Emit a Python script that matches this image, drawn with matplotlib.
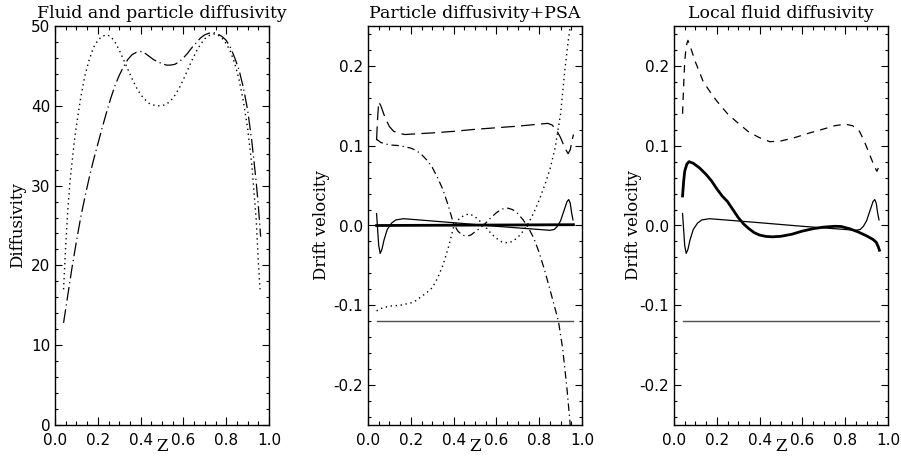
import matplotlib
matplotlib.use("Agg")
import matplotlib.pyplot as plt
from matplotlib.ticker import MultipleLocator, FormatStrFormatter
from matplotlib.transforms import ScaledTranslation

# ---------------- data ----------------
# Panel 1: Fluid and particle diffusivity
z_part = [0.04, 0.05, 0.06, 0.07, 0.08, 0.09, 0.10, 0.12, 0.14, 0.16, 0.18, 0.20,
          0.22, 0.24, 0.26, 0.28, 0.30, 0.32, 0.34, 0.36, 0.38, 0.40, 0.42, 0.44,
          0.46, 0.48, 0.50, 0.52, 0.54, 0.56, 0.58, 0.60, 0.62, 0.64, 0.66, 0.68,
          0.70, 0.72, 0.74, 0.76, 0.78, 0.80, 0.82, 0.84, 0.86, 0.88, 0.90, 0.92,
          0.94, 0.95, 0.958]
d_part = [17.0, 22.5, 27.0, 30.5, 33.0, 35.5, 37.5, 41.0, 43.8, 45.8, 47.3, 48.2,
          48.7, 48.9, 48.7, 48.0, 47.0, 45.8, 44.6, 43.4, 42.3, 41.4, 40.8, 40.3,
          40.1, 40.0, 40.0, 40.2, 40.6, 41.3, 42.2, 43.3, 44.5, 45.7, 46.8, 47.7,
          48.4, 48.8, 49.0, 48.9, 48.5, 47.8, 46.8, 45.3, 43.3, 40.6, 37.2, 32.5,
          25.8, 20.5, 17.0]

z_fluid = [0.04, 0.06, 0.08, 0.10, 0.12, 0.14, 0.16, 0.18, 0.20, 0.22, 0.24, 0.26,
           0.28, 0.30, 0.32, 0.34, 0.36, 0.38, 0.40, 0.42, 0.44, 0.46, 0.48, 0.50,
           0.52, 0.54, 0.56, 0.58, 0.60, 0.62, 0.64, 0.66, 0.68, 0.70, 0.72, 0.74,
           0.76, 0.78, 0.80, 0.82, 0.84, 0.86, 0.88, 0.90, 0.92, 0.94, 0.95, 0.961]
d_fluid = [12.8, 16.3, 19.8, 23.0, 26.0, 28.6, 31.0, 33.2, 35.2, 37.2, 39.1, 40.9,
           42.5, 43.8, 44.9, 45.8, 46.4, 46.7, 46.8, 46.6, 46.2, 45.8, 45.5, 45.3,
           45.1, 45.1, 45.2, 45.5, 46.0, 46.6, 47.3, 47.9, 48.5, 48.9, 49.1, 49.2,
           49.0, 48.7, 48.2, 47.3, 46.0, 44.5, 42.3, 39.5, 35.5, 30.5, 27.5, 23.6]

# Panel 2: Particle diffusivity + PSA
z_p2_dash = [0.04, 0.045, 0.05, 0.06, 0.08, 0.10, 0.12, 0.15, 0.175, 0.20, 0.30, 0.40,
             0.50, 0.60, 0.70, 0.80, 0.84, 0.86, 0.88, 0.90, 0.92, 0.935, 0.945, 0.955, 0.96]
v_p2_dash = [0.107, 0.135, 0.155, 0.150, 0.135, 0.124, 0.118, 0.115, 0.114, 0.1145, 0.116, 0.118,
             0.1205, 0.1225, 0.1245, 0.127, 0.128, 0.126, 0.120, 0.110, 0.097, 0.090, 0.095, 0.108, 0.114]

z_p2_dd = [0.04, 0.06, 0.10, 0.15, 0.20, 0.225, 0.25, 0.275, 0.30, 0.325, 0.35, 0.375,
           0.40, 0.42, 0.44, 0.46, 0.48, 0.50, 0.525, 0.55, 0.575, 0.60, 0.625, 0.65,
           0.675, 0.70, 0.725, 0.75, 0.775, 0.80, 0.825, 0.85, 0.875, 0.89, 0.91, 0.93, 0.945]
v_p2_dd = [0.108, 0.104, 0.101, 0.100, 0.097, 0.094, 0.089, 0.082, 0.073, 0.060, 0.045, 0.025,
           0.002, -0.007, -0.012, -0.0133, -0.012, -0.008, -0.003, 0.003, 0.010, 0.016, 0.0205, 0.022,
           0.020, 0.015, 0.007, -0.003, -0.016, -0.034, -0.056, -0.080, -0.105, -0.120, -0.155, -0.205, -0.25]

z_p2_dot = [0.04, 0.06, 0.10, 0.15, 0.20, 0.225, 0.25, 0.275, 0.30, 0.325, 0.35, 0.375,
            0.40, 0.425, 0.45, 0.475, 0.50, 0.525, 0.55, 0.575, 0.60, 0.625, 0.65,
            0.675, 0.70, 0.725, 0.75, 0.775, 0.80, 0.825, 0.85, 0.875, 0.90, 0.92, 0.935, 0.945]
v_p2_dot = [-0.107, -0.104, -0.101, -0.100, -0.097, -0.094, -0.089, -0.084, -0.078, -0.066, -0.050, -0.028,
            -0.002, 0.008, 0.013, 0.0145, 0.011, 0.005, -0.002, -0.010, -0.016, -0.0205, -0.0217,
            -0.020, -0.015, -0.007, 0.003, 0.016, 0.032, 0.050, 0.070, 0.098, 0.140, 0.195, 0.230, 0.25]

# thin solid curve (same in panels 2 and 3)
z_thin = [0.04, 0.045, 0.05, 0.057, 0.065, 0.075, 0.09, 0.11, 0.13, 0.165, 0.20, 0.40,
          0.60, 0.80, 0.85, 0.87, 0.885, 0.90, 0.915, 0.93, 0.938, 0.945, 0.952, 0.958]
v_thin = [0.015, -0.005, -0.025, -0.035, -0.030, -0.018, -0.005, 0.003, 0.007, 0.0085, 0.0078, 0.0035,
          -0.001, -0.005, -0.006, -0.005, -0.001, 0.006, 0.018, 0.030, 0.0325, 0.028, 0.015, 0.007]

z_p2_thick = [0.04, 0.96]
v_p2_thick = [0.0, 0.001]

z_ref = [0.04, 0.96]
v_ref = [-0.12, -0.12]

# Panel 3: Local fluid diffusivity
z_p3_dash = [0.04, 0.045, 0.05, 0.057, 0.065, 0.075, 0.10, 0.137, 0.175, 0.20, 0.25, 0.292,
             0.35, 0.40, 0.448, 0.50, 0.55, 0.634, 0.70, 0.75, 0.80, 0.835, 0.867, 0.89,
             0.914, 0.935, 0.948, 0.955]
v_p3_dash = [0.140, 0.175, 0.205, 0.225, 0.232, 0.225, 0.205, 0.180, 0.165, 0.156, 0.140, 0.130,
             0.117, 0.110, 0.105, 0.106, 0.109, 0.116, 0.121, 0.125, 0.127, 0.125, 0.118, 0.105,
             0.089, 0.075, 0.068, 0.072]

z_p3_thick = [0.04, 0.045, 0.05, 0.06, 0.07, 0.09, 0.12, 0.15, 0.175, 0.20, 0.225, 0.25,
              0.275, 0.30, 0.325, 0.35, 0.375, 0.40, 0.43, 0.46, 0.50, 0.55, 0.60, 0.65,
              0.70, 0.75, 0.78, 0.82, 0.86, 0.90, 0.93, 0.945, 0.955, 0.96]
v_p3_thick = [0.037, 0.055, 0.068, 0.077, 0.080, 0.078, 0.072, 0.064, 0.056, 0.046, 0.037, 0.030,
              0.020, 0.010, 0.002, -0.004, -0.009, -0.012, -0.0137, -0.0142, -0.0135, -0.011, -0.007, -0.004,
              -0.002, -0.001, -0.0012, -0.004, -0.008, -0.013, -0.0175, -0.021, -0.027, -0.031]

titles = ["Fluid and particle diffusivity", "Particle diffusivity+PSA", "Local fluid diffusivity"]
ylabels = ["Diffusivity", "Drift velocity", "Drift velocity"]
xlabel = "Z"

# ---------------- figure ----------------
W, H = 901, 465
fig = plt.figure(figsize=(W / 100, H / 100), dpi=100)

lefts = [55, 368, 674]
label_x = [-0.176, -0.216, -0.19]
axes = []
for i, lp in enumerate(lefts):
    ax = fig.add_axes([lp / W, 40 / H, 214 / W, 399 / H])
    axes.append(ax)

SERIF = "DejaVu Serif"
TICKFONT = "DejaVu Sans"

dot = (0, (1, 2.6))
k = "black"

ax1, ax2, ax3 = axes
ax1.plot(z_part, d_part, color=k, lw=1.0, linestyle=dot)
ax1.plot(z_fluid, d_fluid, color=k, lw=0.9, linestyle=(0, (11, 3, 1, 3)))

ax2.plot(z_p2_dash, v_p2_dash, color=k, lw=0.9, linestyle=(0, (11, 5)))
ax2.plot(z_p2_dd, v_p2_dd, color=k, lw=0.9, linestyle=(0, (6, 3, 1, 3)))
ax2.plot(z_p2_dot, v_p2_dot, color=k, lw=1.0, linestyle=dot)
ax2.plot(z_thin, v_thin, color=k, lw=0.9)
ax2.plot(z_p2_thick, v_p2_thick, color=k, lw=2.0)
ax2.plot(z_ref, v_ref, color="0.3", lw=1.0)

ax3.plot(z_p3_dash, v_p3_dash, color=k, lw=0.9, linestyle=(0, (6, 5)))
ax3.plot(z_p3_thick, v_p3_thick, color=k, lw=2.0)
ax3.plot(z_thin, v_thin, color=k, lw=0.9)
ax3.plot(z_ref, v_ref, color="0.3", lw=1.0)

for i, ax in enumerate(axes):
    ax.set_xlim(0, 1)
    ax.xaxis.set_major_locator(MultipleLocator(0.2))
    ax.xaxis.set_minor_locator(MultipleLocator(0.05))
    ax.xaxis.set_major_formatter(FormatStrFormatter("%.1f"))
    if i == 0:
        ax.set_ylim(0, 50)
        ax.yaxis.set_major_locator(MultipleLocator(10))
        ax.yaxis.set_minor_locator(MultipleLocator(2))
        ax.yaxis.set_major_formatter(FormatStrFormatter("%d"))
    else:
        ax.set_ylim(-0.25, 0.25)
        ax.yaxis.set_major_locator(MultipleLocator(0.1))
        ax.yaxis.set_minor_locator(MultipleLocator(0.02))
        ax.yaxis.set_major_formatter(FormatStrFormatter("%.1f"))
    ax.tick_params(axis="both", which="both", direction="in", top=True, right=True,
                   width=0.8, colors="black")
    ax.tick_params(axis="x", which="major", length=6, pad=5.5)
    ax.tick_params(axis="x", which="minor", length=3)
    ax.tick_params(axis="y", which="major", length=5, pad=3.5)
    ax.tick_params(axis="y", which="minor", length=2.5)
    for lab in ax.get_xticklabels() + ax.get_yticklabels():
        lab.set_fontfamily(TICKFONT)
        lab.set_fontsize(11)
    for sp in ax.spines.values():
        sp.set_linewidth(1.0)
    ax.set_title(titles[i], fontfamily=SERIF, fontsize=12.5, pad=6)
    ax.set_ylabel(ylabels[i], fontfamily=SERIF, fontsize=12)
    ax.yaxis.set_label_coords(label_x[i], 0.5)
    ax.yaxis.label.set_va("center")
    ax.set_xlabel(xlabel, fontfamily=SERIF, fontsize=12)
    ax.xaxis.set_label_coords(0.5, -0.055)
    ax.xaxis.label.set_va("center")

# IDL places the lowest y label of the first panel a little above its tick
fig.canvas.draw()
ylabs = ax1.get_yticklabels()
if ylabs:
    ylabs[0].set_transform(ylabs[0].get_transform()
                           + ScaledTranslation(0, 3 / 100, fig.dpi_scale_trans))

fig.savefig("out.png", dpi=100)
